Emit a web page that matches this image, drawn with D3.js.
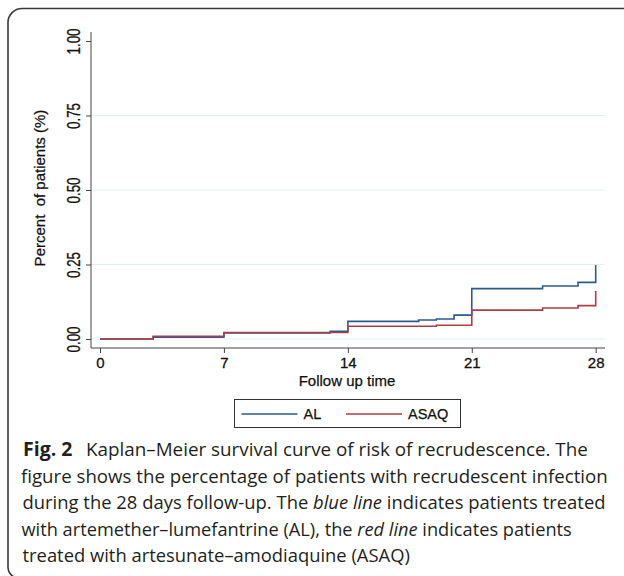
<!DOCTYPE html>
<html>
<head>
<meta charset="utf-8">
<script src="https://cdn.jsdelivr.net/npm/d3@7"></script>
<style>
  body { margin: 0; background: #fff; }
  svg { display: block; }
</style>
</head>
<body>
<svg id="chart" width="624" height="576"></svg>
<script>
// Kaplan-Meier step data (day, cumulative proportion recrudescent)
const alDays = [0, 3, 7, 13, 14, 18, 19, 20, 21, 25, 27, 28];
const alValues = [0, 0.006, 0.02, 0.026, 0.059, 0.064, 0.067, 0.08, 0.169, 0.178, 0.19, 0.248];
const asaqDays = [0, 3, 7, 14, 19, 21, 25, 27, 28];
const asaqValues = [0, 0.009, 0.022, 0.043, 0.046, 0.097, 0.104, 0.112, 0.161];

const xTicks = [0, 7, 14, 21, 28];
const yTicks = [0, 0.25, 0.5, 0.75, 1];
const seriesNames = ["AL", "ASAQ"];
const seriesColors = ["#2b5a8c", "#ad3c45"];

const captionLines = [
  [["Fig. 2", "bold"]],
  [["Kaplan–Meier survival curve of risk of recrudescence. The", "normal"]],
  [["figure shows the percentage of patients with recrudescent infection", "normal"]],
  [["during the 28 days follow-up. The ", "normal"], ["blue line", "italic"], [" indicates patients treated", "normal"]],
  [["with artemether–lumefantrine (AL), the ", "normal"], ["red line", "italic"], [" indicates patients", "normal"]],
  [["treated with artesunate–amodiaquine (ASAQ)", "normal"]]
];

const svg = d3.select("#chart");
const axisFont = "Liberation Sans, Arial, sans-serif";

// card border (open on the right)
svg.append("path")
  .attr("d", "M624,8.5 H22 A14,14 0 0 0 8,22.5 V566 A12,12 0 0 0 14,577")
  .attr("fill", "none")
  .attr("stroke", "#3a3a3a")
  .attr("stroke-width", 1.6);

const x = d3.scaleLinear().domain([0, 28]).range([100, 595.7]);
const y = d3.scaleLinear().domain([0, 1]).range([339, 41]);
const xEdge = [91, 605];
const yEdge = [348, 32];

// grid lines
svg.append("g")
  .selectAll("line")
  .data(yTicks.slice(0, 4))
  .join("line")
  .attr("x1", xEdge[0])
  .attr("x2", xEdge[1])
  .attr("y1", d => y(d))
  .attr("y2", d => y(d))
  .attr("stroke", "#e3eef0")
  .attr("stroke-width", 1);

// y axis
const yAxis = svg.append("g")
  .attr("transform", `translate(${xEdge[0]},0)`)
  .call(d3.axisLeft(y).tickValues(yTicks).tickFormat(d3.format(".2f")).tickSize(5).tickSizeOuter(0));
yAxis.select(".domain").attr("d", `M0,${yEdge[0]}V${yEdge[1]}`).attr("stroke", "#444");
yAxis.selectAll(".tick line").attr("stroke", "#444");
yAxis.selectAll(".tick text")
  .attr("font-family", axisFont)
  .attr("font-size", 18)
  .attr("fill", "#111")
  .attr("stroke", "#111")
  .attr("stroke-width", 0.3)
  .attr("x", null).attr("dy", null)
  .attr("text-anchor", "middle")
  .attr("textLength", 26)
  .attr("lengthAdjust", "spacingAndGlyphs")
  .attr("transform", "translate(-11,0) rotate(-90)");

// x axis
const xAxis = svg.append("g")
  .attr("transform", `translate(0,${yEdge[0]})`)
  .call(d3.axisBottom(x).tickValues(xTicks).tickSize(5).tickSizeOuter(0));
xAxis.select(".domain").attr("d", `M${xEdge[0]},0H${xEdge[1]}`).attr("stroke", "#444");
xAxis.selectAll(".tick line").attr("stroke", "#444");
xAxis.selectAll(".tick text")
  .attr("font-family", axisFont)
  .attr("font-size", 15)
  .attr("fill", "#111")
  .attr("stroke", "#111")
  .attr("stroke-width", 0.3)
  .attr("dy", null)
  .attr("y", 20);

// axis titles
svg.append("text")
  .attr("transform", "translate(45,188) rotate(-90)")
  .attr("text-anchor", "middle")
  .attr("font-family", axisFont)
  .attr("font-size", 15)
  .attr("fill", "#111")
  .attr("stroke", "#111")
  .attr("stroke-width", 0.25)
  .attr("xml:space", "preserve")
  .text("Percent  of patients (%)");

svg.append("text")
  .attr("x", 347)
  .attr("y", 385.5)
  .attr("text-anchor", "middle")
  .attr("font-family", axisFont)
  .attr("font-size", 15)
  .attr("fill", "#111")
  .attr("stroke", "#111")
  .attr("stroke-width", 0.25)
  .text("Follow up time");

// step curves
const line = d3.line()
  .x(d => x(d[0]))
  .y(d => y(d[1]))
  .curve(d3.curveStepAfter);

const series = [
  d3.zip(alDays, alValues),
  d3.zip(asaqDays, asaqValues)
];

svg.append("g")
  .selectAll("path")
  .data(series)
  .join("path")
  .attr("d", line)
  .attr("fill", "none")
  .attr("stroke", (d, i) => seriesColors[i])
  .attr("stroke-width", 1.6);

// legend
const legend = svg.append("g");
legend.append("rect")
  .attr("x", 234.5).attr("y", 399.5)
  .attr("width", 226).attr("height", 28)
  .attr("fill", "#fff")
  .attr("stroke", "#333")
  .attr("stroke-width", 1);
const legendX = [241.5, 346];
seriesNames.forEach((name, i) => {
  legend.append("line")
    .attr("x1", legendX[i]).attr("x2", legendX[i] + 56)
    .attr("y1", 414).attr("y2", 414)
    .attr("stroke", seriesColors[i])
    .attr("stroke-width", 1.4);
  legend.append("text")
    .attr("x", legendX[i] + 62)
    .attr("y", 419)
    .attr("font-family", axisFont)
    .attr("font-size", 14.5)
    .attr("fill", "#111")
    .attr("stroke", "#111")
    .attr("stroke-width", 0.25)
    .text(name);
});

// caption: each line stretched to the measured width
const captionFont = "Open Sans, Noto Sans, sans-serif";
const capSpecs = [
  { x: 23, y: 456, w: 49.5 },
  { x: 86, y: 456, w: 502 },
  { x: 21, y: 482.5, w: 587 },
  { x: 22.5, y: 509, w: 583.5 },
  { x: 21.5, y: 535.5, w: 550.5 },
  { x: 22.5, y: 562, w: 387.5 }
];
captionLines.forEach((parts, i) => {
  const s = capSpecs[i];
  const t = svg.append("text")
    .attr("font-family", captionFont)
    .attr("font-size", 19)
    .attr("fill", "#231f20")
    .attr("xml:space", "preserve");
  parts.forEach(([txt, style]) => {
    t.append("tspan")
      .attr("font-weight", style === "bold" ? 700 : 400)
      .attr("font-style", style === "italic" ? "italic" : "normal")
      .text(txt);
  });
  const w = t.node().getComputedTextLength();
  t.attr("transform", `translate(${s.x},${s.y}) scale(${s.w / w},1)`);
});
</script>
</body>
</html>
